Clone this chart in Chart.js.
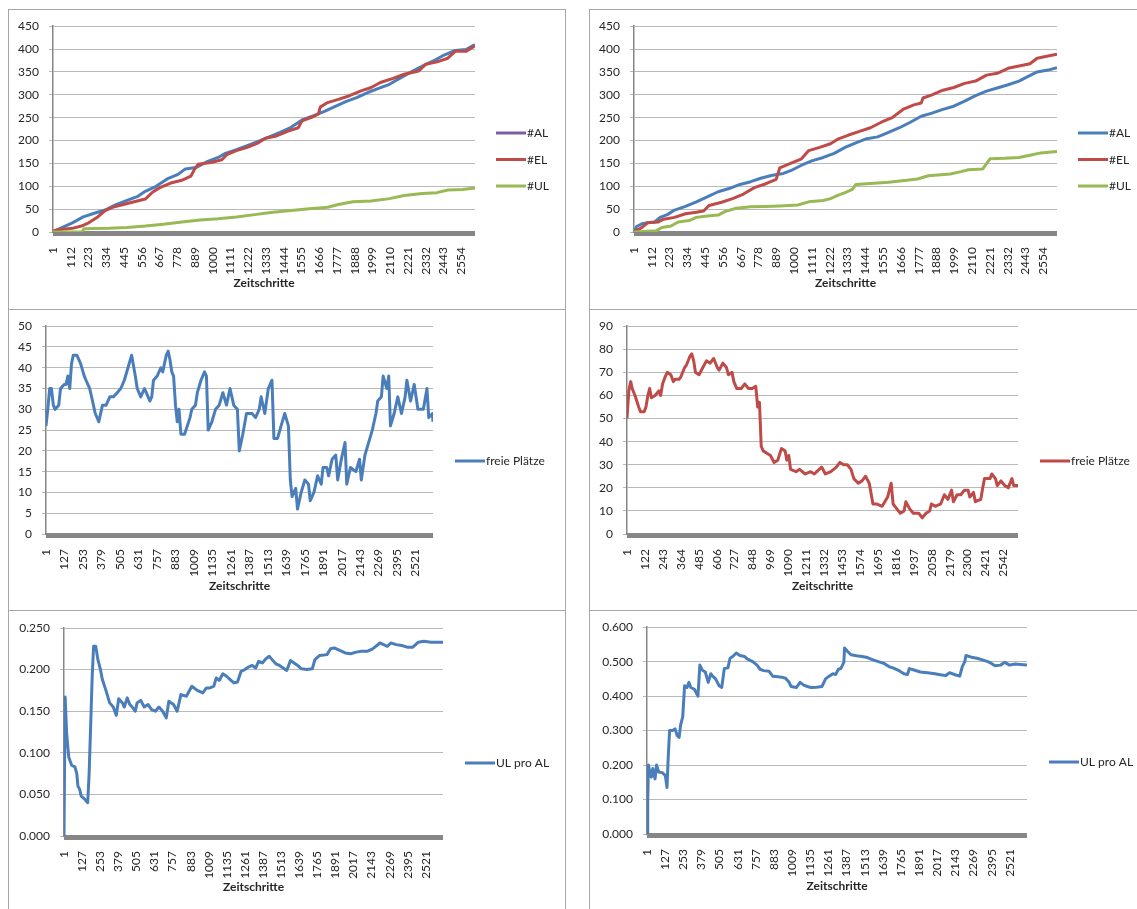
<!DOCTYPE html>
<html lang="de">
<head>
<meta charset="utf-8">
<title>Zeitschritte</title>
<script src="https://cdn.jsdelivr.net/npm/chart.js@4.4.1/dist/chart.umd.min.js"></script>
<style>
    html, body { margin: 0; padding: 0; background: #fff; }
    body { position: relative; width: 1137px; height: 909px; overflow: hidden; font-family: Lato, sans-serif; }
    .panel { position: absolute; box-sizing: border-box; border: 1px solid #a6a6a6; }
    canvas { position: absolute; }
</style>
</head>
<body>
<div class="panel" style="left:8px;top:9px;width:558px;height:301px"></div>
<div class="panel" style="left:589px;top:9px;width:570px;height:301px"></div>
<div class="panel" style="left:8px;top:309px;width:558px;height:302px"></div>
<div class="panel" style="left:589px;top:309px;width:570px;height:302px"></div>
<div class="panel" style="left:8px;top:610px;width:558px;height:320px"></div>
<div class="panel" style="left:589px;top:610px;width:570px;height:320px"></div>

<canvas id="alLinks"></canvas>
<canvas id="alRechts"></canvas>
<canvas id="freiLinks"></canvas>
<canvas id="freiRechts"></canvas>
<canvas id="ulLinks"></canvas>
<canvas id="ulRechts"></canvas>

<script>
// --- Daten ---
const LAST_STEP = 2640;

const ticks111 = [1, 112, 223, 334, 445, 556, 667, 778, 889, 1000, 1111, 1222, 1333, 1444, 1555, 1666, 1777, 1888, 1999, 2110, 2221, 2332, 2443, 2554];
const ticks126 = [1, 127, 253, 379, 505, 631, 757, 883, 1009, 1135, 1261, 1387, 1513, 1639, 1765, 1891, 2017, 2143, 2269, 2395, 2521];
const ticks121 = [1, 122, 243, 364, 485, 606, 727, 848, 969, 1090, 1211, 1332, 1453, 1574, 1695, 1816, 1937, 2058, 2179, 2300, 2421, 2542];

// Lauf 1: #AL / #EL / #UL
const stepsAL1 = [1, 53, 122, 190, 259, 327, 395, 464, 532, 578,
    646, 715, 783, 829, 897, 965, 1034, 1079, 1148, 1216,
    1285, 1353, 1421, 1490, 1558, 1627, 1695, 1763, 1832, 1900,
    1969, 2037, 2105, 2174, 2242, 2311, 2379, 2447, 2516, 2584,
    2630, 2640];
const valuesAL1 = [0, 9, 20, 33, 41, 48, 60, 69, 78, 89,
    100, 116, 126, 138, 141, 154, 163, 172, 180, 189,
    198, 208, 218, 229, 245, 254, 263, 274, 285, 294,
    305, 314, 323, 337, 350, 363, 374, 387, 397, 399,
    408, 409];
const stepsEL1 = [1, 31, 122, 179, 224, 281, 327, 373, 441, 509,
    578, 623, 669, 737, 806, 863, 886, 908, 988, 1057,
    1091, 1148, 1216, 1285, 1330, 1399, 1467, 1535, 1558, 1627,
    1661, 1672, 1718, 1786, 1855, 1923, 1991, 2048, 2128, 2197,
    2288, 2333, 2402, 2470, 2516, 2584, 2640];
const valuesEL1 = [2, 5, 8, 13, 20, 33, 47, 54, 60, 66,
    72, 87, 97, 107, 113, 122, 137, 148, 152, 158,
    170, 178, 185, 195, 205, 210, 220, 228, 243, 252,
    258, 273, 283, 290, 298, 308, 316, 327, 336, 345,
    352, 367, 372, 380, 395, 395, 407];
const stepsUL1 = [1, 182, 195, 350, 464, 578, 692, 806, 920, 1034,
    1148, 1262, 1376, 1490, 1604, 1718, 1786, 1877, 1991, 2105,
    2197, 2311, 2402, 2470, 2561, 2640];
const valuesUL1 = [0, 0, 7, 8, 10, 13, 17, 22, 26, 29,
    33, 38, 43, 47, 51, 54, 60, 66, 68, 73,
    80, 84, 86, 92, 93, 96];

// Lauf 2: #AL / #EL / #UL
const stepsAL2 = [1, 17, 51, 85, 130, 164, 209, 254, 322, 390,
    458, 526, 594, 662, 729, 797, 865, 933, 978, 1046,
    1114, 1182, 1250, 1318, 1385, 1453, 1521, 1589, 1657, 1725,
    1793, 1860, 1928, 1996, 2064, 2132, 2200, 2267, 2335, 2403,
    2448, 2516, 2584, 2640];
const valuesAL2 = [0, 12, 18, 20, 22, 32, 38, 48, 56, 66,
    77, 88, 95, 104, 110, 118, 124, 128, 134, 146,
    156, 163, 172, 185, 195, 204, 208, 218, 228, 240,
    253, 260, 268, 275, 286, 298, 308, 315, 322, 330,
    338, 350, 354, 359];
const stepsEL2 = [1, 51, 85, 153, 186, 254, 322, 390, 435, 469,
    548, 616, 684, 752, 820, 888, 910, 978, 1046, 1091,
    1159, 1227, 1272, 1340, 1408, 1476, 1544, 1612, 1679, 1747,
    1793, 1804, 1860, 1928, 1996, 2064, 2132, 2200, 2267, 2335,
    2403, 2471, 2516, 2584, 2640];
const valuesEL2 = [0, 10, 20, 22, 28, 32, 40, 43, 46, 58,
    65, 73, 83, 97, 105, 115, 140, 150, 160, 178,
    185, 193, 203, 212, 220, 228, 240, 250, 268, 278,
    282, 293, 300, 310, 316, 325, 330, 343, 347, 358,
    363, 368, 380, 385, 389];
const stepsUL2 = [1, 141, 175, 232, 277, 345, 390, 458, 526, 571,
    639, 729, 820, 910, 1023, 1091, 1182, 1227, 1272, 1318,
    1363, 1385, 1476, 1589, 1702, 1770, 1838, 1974, 2041, 2087,
    2177, 2222, 2313, 2403, 2471, 2539, 2640];
const valuesUL2 = [0, 3, 10, 13, 22, 25, 32, 35, 37, 45,
    52, 55, 56, 57, 59, 66, 69, 73, 80, 86,
    93, 104, 106, 109, 113, 116, 123, 127, 132, 136,
    138, 160, 161, 163, 168, 173, 176];

// freie Plätze
const stepsFrei1 = [1, 13, 26, 38, 51, 63, 88, 100, 125, 138,
    150, 163, 175, 187, 212, 237, 262, 274, 299, 312,
    337, 361, 386, 411, 436, 461, 486, 511, 535, 560,
    585, 610, 623, 647, 672, 685, 709, 722, 734, 759,
    784, 797, 821, 834, 846, 859, 871, 884, 896, 908,
    921, 946, 983, 995, 1020, 1033, 1058, 1082, 1095, 1107,
    1132, 1157, 1182, 1207, 1232, 1256, 1281, 1306, 1319, 1343,
    1368, 1406, 1430, 1455, 1468, 1493, 1517, 1542, 1555, 1580,
    1604, 1629, 1654, 1667, 1679, 1704, 1716, 1741, 1766, 1791,
    1803, 1828, 1853, 1878, 1890, 1915, 1928, 1952, 1977, 1990,
    2015, 2040, 2052, 2077, 2114, 2139, 2151, 2176, 2201, 2226,
    2251, 2263, 2288, 2300, 2325, 2338, 2350, 2375, 2400, 2425,
    2450, 2462, 2487, 2512, 2537, 2574, 2599, 2611, 2636, 2640];
const valuesFrei1 = [26, 30, 35, 35, 31, 30, 31, 35, 36, 36,
    38, 35, 41, 43, 43, 41, 38, 37, 35, 33,
    29, 27, 31, 31, 33, 33, 34, 35, 37, 40,
    43, 38, 35, 33, 35, 34, 32, 33, 37, 38,
    40, 39, 43, 44, 42, 39, 38, 31, 27, 30,
    24, 24, 28, 30, 31, 34, 37, 39, 38, 25,
    27, 30, 31, 34, 31, 35, 31, 30, 20, 24,
    29, 29, 28, 30, 33, 29, 35, 37, 23, 23,
    26, 29, 26, 13, 9, 11, 6, 10, 13, 12,
    8, 10, 14, 12, 16, 16, 14, 18, 19, 13,
    18, 22, 12, 16, 15, 18, 13, 19, 22, 25,
    29, 32, 33, 38, 35, 38, 26, 29, 33, 29,
    33, 37, 32, 36, 30, 30, 35, 28, 29, 27];
const stepsFrei2 = [1, 13, 26, 36, 55, 80, 92, 117, 129, 142,
    154, 166, 191, 216, 228, 241, 258, 273, 297, 314,
    327, 352, 364, 389, 401, 426, 438, 451, 463, 488,
    512, 537, 562, 586, 611, 623, 648, 673, 685, 710,
    722, 742, 772, 796, 821, 846, 870, 883, 895, 907,
    920, 945, 969, 994, 1019, 1043, 1068, 1080, 1093, 1105,
    1142, 1166, 1204, 1241, 1265, 1315, 1340, 1377, 1414, 1438,
    1463, 1488, 1513, 1532, 1562, 1587, 1611, 1636, 1661, 1686,
    1723, 1760, 1784, 1797, 1821, 1846, 1871, 1883, 1908, 1933,
    1970, 1994, 2019, 2044, 2056, 2081, 2118, 2143, 2167, 2192,
    2204, 2229, 2254, 2278, 2303, 2315, 2340, 2352, 2389, 2402,
    2414, 2451, 2463, 2488, 2500, 2525, 2550, 2574, 2599, 2611,
    2640];
const valuesFrei2 = [50, 62, 66, 63, 60, 55, 53, 53, 55, 60,
    63, 59, 60, 62, 60, 65, 68, 70, 69, 66,
    67, 67, 68, 72, 73, 77, 78, 75, 70, 69,
    72, 75, 74, 76, 72, 71, 74, 72, 69, 70,
    66, 63, 63, 65, 63, 63, 64, 55, 57, 38,
    36, 35, 34, 31, 32, 37, 36, 32, 34, 28,
    27, 28, 26, 27, 26, 29, 26, 27, 29, 31,
    30, 30, 28, 24, 22, 23, 25, 22, 13, 13,
    12, 16, 22, 13, 11, 9, 10, 14, 11, 9,
    9, 7, 9, 10, 13, 12, 13, 17, 15, 19,
    14, 17, 17, 19, 19, 16, 18, 14, 15, 20,
    24, 24, 26, 24, 21, 23, 21, 20, 24, 21,
    21];

// UL pro AL
const stepsQuote1 = [1, 9, 19, 26, 34, 44, 54, 77, 90, 98,
    110, 121, 141, 166, 176, 187, 197, 207, 222, 237,
    255, 268, 293, 319, 344, 365, 382, 408, 421, 441,
    459, 476, 497, 510, 535, 560, 586, 611, 637, 662,
    688, 713, 731, 764, 789, 815, 853, 891, 929, 967,
    993, 1018, 1044, 1061, 1082, 1107, 1133, 1158, 1184, 1209,
    1234, 1260, 1285, 1311, 1336, 1356, 1382, 1407, 1430, 1450,
    1476, 1501, 1527, 1552, 1578, 1603, 1628, 1654, 1692, 1730,
    1748, 1781, 1832, 1857, 1883, 1921, 1959, 1997, 2035, 2073,
    2112, 2150, 2201, 2252, 2277, 2315, 2353, 2391, 2430, 2468,
    2506, 2557, 2595, 2640];
const valuesQuote1 = [0, 0.167, 0.125, 0.110, 0.095, 0.090, 0.085, 0.083, 0.075, 0.060,
    0.056, 0.048, 0.045, 0.040, 0.075, 0.135, 0.190, 0.228, 0.228, 0.212,
    0.200, 0.188, 0.175, 0.160, 0.155, 0.145, 0.165, 0.160, 0.155, 0.166,
    0.158, 0.155, 0.150, 0.160, 0.163, 0.155, 0.158, 0.152, 0.150, 0.155,
    0.150, 0.142, 0.162, 0.158, 0.150, 0.170, 0.168, 0.180, 0.175, 0.172,
    0.178, 0.178, 0.180, 0.190, 0.187, 0.195, 0.192, 0.188, 0.184, 0.185,
    0.198, 0.200, 0.203, 0.205, 0.202, 0.210, 0.208, 0.213, 0.216, 0.212,
    0.207, 0.205, 0.202, 0.199, 0.211, 0.208, 0.205, 0.201, 0.200, 0.201,
    0.212, 0.217, 0.218, 0.225, 0.226, 0.223, 0.220, 0.219, 0.221, 0.222,
    0.222, 0.225, 0.232, 0.228, 0.232, 0.230, 0.229, 0.227, 0.227, 0.233,
    0.234, 0.233, 0.233, 0.233];
const stepsQuote2 = [1, 6, 11, 21, 31, 41, 57, 67, 82, 107,
    128, 140, 148, 158, 178, 196, 211, 224, 234, 249,
    262, 279, 292, 305, 330, 355, 368, 386, 406, 426,
    444, 457, 477, 502, 520, 538, 563, 578, 596, 621,
    646, 679, 697, 735, 765, 786, 811, 849, 874, 912,
    937, 963, 988, 1001, 1039, 1064, 1089, 1115, 1140, 1178,
    1216, 1241, 1266, 1292, 1312, 1330, 1347, 1368, 1373, 1393,
    1418, 1456, 1494, 1532, 1570, 1608, 1646, 1684, 1709, 1747,
    1785, 1810, 1823, 1861, 1899, 1950, 2000, 2038, 2076, 2102,
    2140, 2173, 2190, 2208, 2216, 2254, 2292, 2330, 2368, 2393,
    2418, 2456, 2486, 2519, 2557, 2595, 2640];
const valuesQuote2 = [0, 0.090, 0.200, 0.180, 0.165, 0.190, 0.160, 0.200, 0.180, 0.178,
    0.170, 0.135, 0.220, 0.300, 0.300, 0.305, 0.285, 0.280, 0.315, 0.340,
    0.430, 0.425, 0.440, 0.425, 0.420, 0.400, 0.490, 0.475, 0.470, 0.440,
    0.465, 0.458, 0.450, 0.430, 0.425, 0.480, 0.482, 0.510, 0.515, 0.525,
    0.518, 0.515, 0.508, 0.500, 0.490, 0.478, 0.474, 0.472, 0.458, 0.456,
    0.455, 0.452, 0.440, 0.428, 0.425, 0.440, 0.432, 0.428, 0.425, 0.426,
    0.428, 0.450, 0.458, 0.465, 0.463, 0.478, 0.480, 0.498, 0.540, 0.530,
    0.520, 0.517, 0.515, 0.512, 0.505, 0.500, 0.495, 0.485, 0.482, 0.475,
    0.465, 0.463, 0.480, 0.475, 0.470, 0.468, 0.465, 0.462, 0.460, 0.468,
    0.462, 0.458, 0.485, 0.500, 0.518, 0.513, 0.510, 0.505, 0.500, 0.495,
    0.488, 0.490, 0.498, 0.490, 0.493, 0.492, 0.490];

// --- Farben (Office-Standard) ---
const BLAU = '#4a7ebb';
const ROT = '#be4b48';
const GRUEN = '#98b954';
const LILA = '#7d5fa0';

Chart.defaults.font.family = 'Lato, sans-serif';
Chart.defaults.font.size = 12;
Chart.defaults.color = '#262626';

// grauer Balken unter der Rubrikenachse (dicht gesetzte Teilstriche)
const achsenBalken = {
    id: 'achsenBalken',
    beforeDatasetsDraw(chart) {
        const { ctx, chartArea: a } = chart;
        ctx.save();
        ctx.fillStyle = '#868686';
        ctx.fillRect(a.left, a.bottom - 1, a.right - a.left, 5);
        ctx.restore();
    }
};

// Legende rechts neben dem Diagramm, Linie direkt vor dem Text
const seitenLegende = {
    id: 'seitenLegende',
    afterDraw(chart, args, opts) {
        const { ctx } = chart;
        const sets = chart.data.datasets;
        ctx.save();
        ctx.font = '12px Lato, sans-serif';
        ctx.textBaseline = 'middle';
        ctx.lineWidth = 3;
        sets.forEach((ds, i) => {
            const y = opts.y + (i - (sets.length - 1) / 2) * opts.gap;
            ctx.strokeStyle = ds.legendColor || ds.borderColor;
            ctx.beginPath();
            ctx.moveTo(opts.x, y);
            ctx.lineTo(opts.x + 30, y);
            ctx.stroke();
            ctx.fillStyle = '#262626';
            ctx.fillText(ds.label, opts.x + 31, y + 0.5);
        });
        ctx.restore();
    }
};

function erstelleDiagramm(id, box, reihen, yAchse, xTicks) {
    const canvas = document.getElementById(id);
    canvas.width = box.x2 - box.x;
    canvas.height = box.y2 - box.y;
    canvas.style.left = box.x + 'px';
    canvas.style.top = box.y + 'px';

    const titelUnten = box.title + 11.2;

    return new Chart(canvas, {
        type: 'line',
        data: {
            datasets: reihen.map((r, i) => ({
                label: r.label,
                data: r.steps.map((s, k) => ({ x: s, y: r.values[k] })),
                borderColor: r.color,
                backgroundColor: r.color,
                legendColor: r.legendColor,
                borderWidth: 3,
                borderJoinStyle: 'round',
                pointRadius: 0,
                tension: 0,
                order: reihen.length - i
            }))
        },
        options: {
            responsive: false,
            animation: false,
            events: [],
            layout: {
                padding: {
                    top: box.top - box.y,
                    right: box.x2 - box.right,
                    bottom: box.y2 - titelUnten,
                    left: 0
                }
            },
            plugins: {
                legend: { display: false },
                tooltip: { enabled: false },
                seitenLegende: { x: box.legendX - box.x, y: box.legendY - box.y, gap: 26.5 }
            },
            scales: {
                x: {
                    type: 'linear',
                    min: 1,
                    max: LAST_STEP,
                    afterBuildTicks: sc => { sc.ticks = xTicks.map(v => ({ value: v })); },
                    afterFit: sc => { sc.height = titelUnten - box.bottom; },
                    grid: { display: false },
                    border: { display: false },
                    ticks: {
                        autoSkip: false,
                        minRotation: 90,
                        maxRotation: 90,
                        padding: 7,
                        callback: v => String(v)
                    },
                    title: {
                        display: true,
                        text: 'Zeitschritte',
                        font: { weight: 'bold' },
                        padding: { top: 4, bottom: 4 }
                    }
                },
                y: {
                    min: 0,
                    max: yAchse.max,
                    afterFit: sc => { sc.width = box.left - box.x; },
                    ticks: {
                        stepSize: yAchse.step,
                        padding: 10,
                        callback: v => yAchse.decimals ? v.toFixed(yAchse.decimals) : String(v)
                    },
                    grid: { color: '#b9b9b9', lineWidth: 1, tickLength: 4 },
                    border: { color: '#868686', width: 1.5 }
                }
            }
        },
        plugins: [achsenBalken, seitenLegende]
    });
}

document.addEventListener('DOMContentLoaded', () => {
    erstelleDiagramm('alLinks',
        { x: 8, y: 9, x2: 565, y2: 309, left: 53, right: 475, top: 25, bottom: 232, title: 283, legendX: 496, legendY: 159.5 },
        [
            { label: '#AL', steps: stepsAL1, values: valuesAL1, color: BLAU, legendColor: LILA },
            { label: '#EL', steps: stepsEL1, values: valuesEL1, color: ROT },
            { label: '#UL', steps: stepsUL1, values: valuesUL1, color: GRUEN }
        ],
        { max: 450, step: 50 }, ticks111);

    erstelleDiagramm('alRechts',
        { x: 589, y: 9, x2: 1137, y2: 309, left: 634, right: 1057, top: 25, bottom: 232, title: 283, legendX: 1078, legendY: 159.5 },
        [
            { label: '#AL', steps: stepsAL2, values: valuesAL2, color: BLAU },
            { label: '#EL', steps: stepsEL2, values: valuesEL2, color: ROT },
            { label: '#UL', steps: stepsUL2, values: valuesUL2, color: GRUEN }
        ],
        { max: 450, step: 50 }, ticks111);

    erstelleDiagramm('freiLinks',
        { x: 8, y: 309, x2: 565, y2: 610, left: 46, right: 433, top: 326, bottom: 534, title: 586, legendX: 455, legendY: 461 },
        [{ label: 'freie Plätze', steps: stepsFrei1, values: valuesFrei1, color: BLAU }],
        { max: 50, step: 5 }, ticks126);

    erstelleDiagramm('freiRechts',
        { x: 589, y: 309, x2: 1137, y2: 610, left: 627, right: 1018, top: 326, bottom: 534, title: 586, legendX: 1040, legendY: 461 },
        [{ label: 'freie Plätze', steps: stepsFrei2, values: valuesFrei2, color: ROT }],
        { max: 90, step: 10 }, ticks121);

    erstelleDiagramm('ulLinks',
        { x: 8, y: 610, x2: 565, y2: 909, left: 64, right: 443, top: 628, bottom: 836, title: 887, legendX: 465, legendY: 763 },
        [{ label: 'UL pro AL', steps: stepsQuote1, values: valuesQuote1, color: BLAU }],
        { max: 0.25, step: 0.05, decimals: 3 }, ticks126);

    erstelleDiagramm('ulRechts',
        { x: 589, y: 610, x2: 1137, y2: 909, left: 647, right: 1027, top: 627, bottom: 834, title: 886, legendX: 1049, legendY: 762 },
        [{ label: 'UL pro AL', steps: stepsQuote2, values: valuesQuote2, color: BLAU }],
        { max: 0.6, step: 0.1, decimals: 3 }, ticks126);
});
</script>
</body>
</html>
